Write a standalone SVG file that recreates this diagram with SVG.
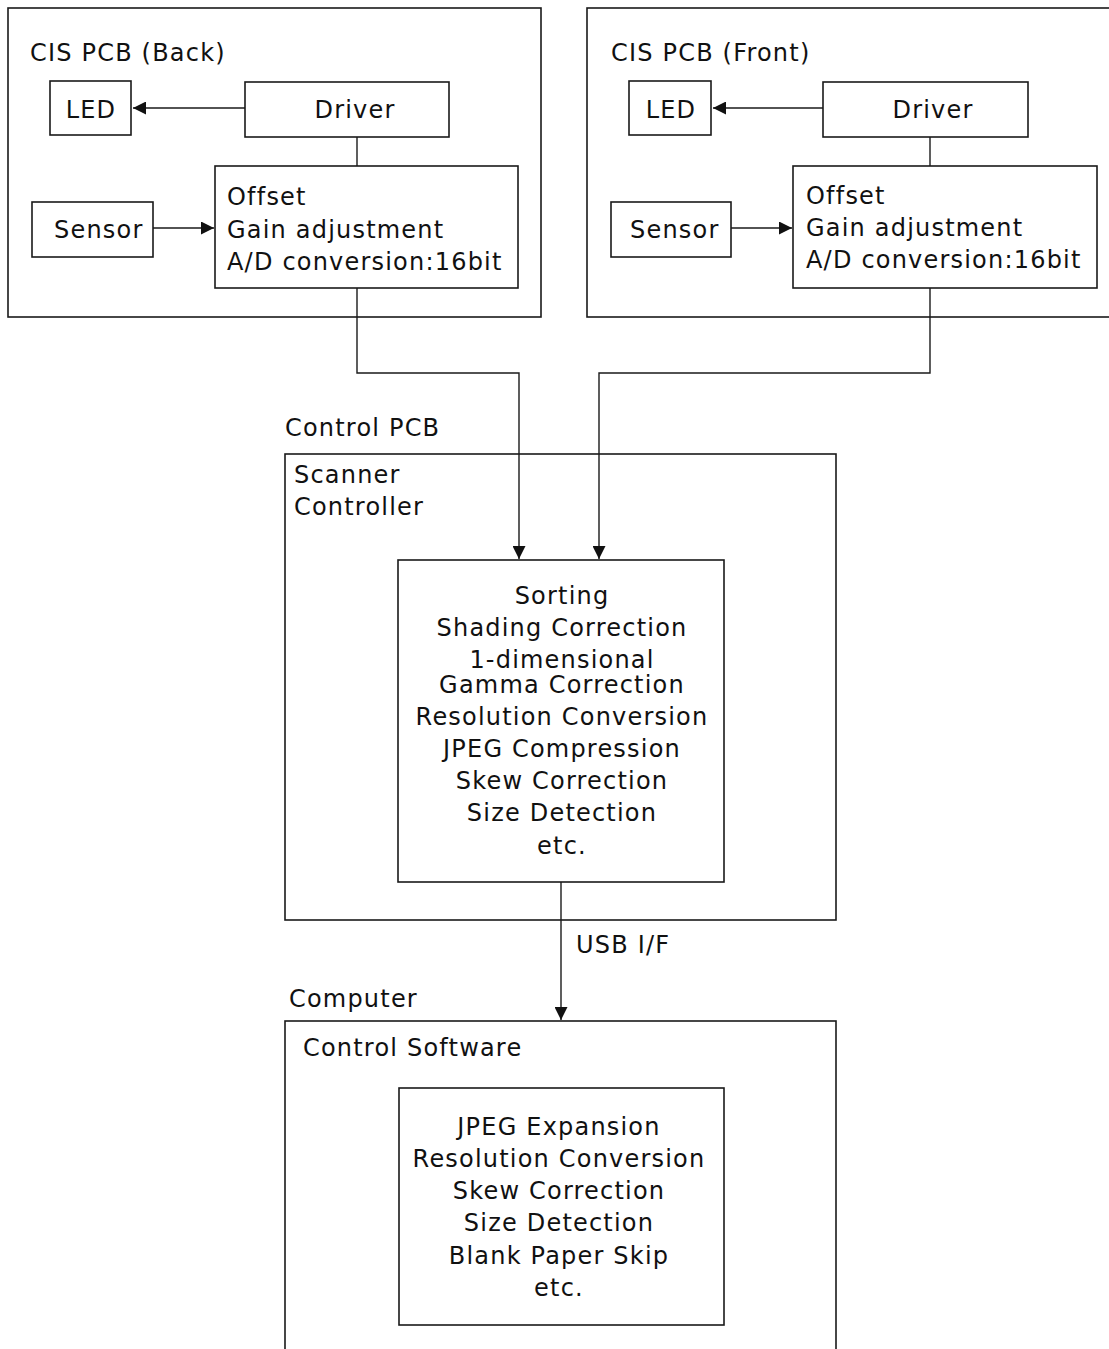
<svg xmlns="http://www.w3.org/2000/svg" width="1109" height="1349" viewBox="0 0 1109 1349">
<style>
.b{fill:#fff;stroke:#1a1a1a;stroke-width:1.6}
.t{font-family:"DejaVu Sans","Verdana",sans-serif;font-size:24px;letter-spacing:1.2px;fill:#111}
.c{text-anchor:middle}
.w{fill:none;stroke:#1a1a1a;stroke-width:1.4}
</style>
<defs>
<marker id="ah" viewBox="0 0 10 10" refX="10" refY="5" markerWidth="13" markerHeight="13" markerUnits="userSpaceOnUse" orient="auto"><path d="M0,0L10,5L0,10z" fill="#111"/></marker>
</defs>
<rect width="1109" height="1349" fill="#fff"/>
<g id="cis-back">
<rect class="b" x="8" y="8" width="533" height="309"/>
<text class="t" x="30" y="61">CIS PCB (Back)</text>
<g id="led-back"><rect class="b" x="50" y="81" width="81" height="54"/><text class="t c" x="91" y="118">LED</text></g>
<g id="driver-back"><rect class="b" x="245" y="82" width="204" height="55"/><text class="t c" x="355" y="118">Driver</text></g>
<g id="sensor-back"><rect class="b" x="32" y="202" width="121" height="55"/><text class="t" x="54" y="238">Sensor</text></g>
<g id="afe-back"><rect class="b" x="215" y="166" width="303" height="122"/>
<text class="t" x="227" y="205">Offset</text><text class="t" x="227" y="238">Gain adjustment</text><text class="t" x="227" y="270">A/D conversion:16bit</text></g>
</g>
<g id="cis-front">
<rect class="b" x="587" y="8" width="530" height="309"/>
<text class="t" x="611" y="61">CIS PCB (Front)</text>
<g id="led-front"><rect class="b" x="629" y="81" width="82" height="54"/><text class="t c" x="671" y="118">LED</text></g>
<g id="driver-front"><rect class="b" x="823" y="82" width="205" height="55"/><text class="t c" x="933" y="118">Driver</text></g>
<g id="sensor-front"><rect class="b" x="611" y="202" width="120" height="55"/><text class="t" x="630" y="238">Sensor</text></g>
<g id="afe-front"><rect class="b" x="793" y="166" width="304" height="122"/>
<text class="t" x="806" y="204">Offset</text><text class="t" x="806" y="236">Gain adjustment</text><text class="t" x="806" y="268">A/D conversion:16bit</text></g>
</g>
<g id="control-pcb">
<text class="t" x="285" y="436">Control PCB</text>
<rect class="b" x="285" y="454" width="551" height="466"/>
<text class="t" x="294" y="483">Scanner</text><text class="t" x="294" y="515">Controller</text>
<g id="scanner-proc"><rect class="b" x="398" y="560" width="326" height="322"/>
<text class="t c" x="562" y="604">Sorting</text>
<text class="t c" x="562" y="636">Shading Correction</text>
<text class="t c" x="562" y="668">1-dimensional</text>
<text class="t c" x="562" y="693">Gamma Correction</text>
<text class="t c" x="562" y="725">Resolution Conversion</text>
<text class="t c" x="562" y="757">JPEG Compression</text>
<text class="t c" x="562" y="789">Skew Correction</text>
<text class="t c" x="562" y="821">Size Detection</text>
<text class="t c" x="562" y="854">etc.</text></g>
</g>
<g id="computer">
<text class="t" x="289" y="1007">Computer</text>
<rect class="b" x="285" y="1021" width="551" height="340"/>
<text class="t" x="303" y="1056">Control Software</text>
<g id="software-proc"><rect class="b" x="399" y="1088" width="325" height="237"/>
<text class="t c" x="559" y="1135">JPEG Expansion</text>
<text class="t c" x="559" y="1167">Resolution Conversion</text>
<text class="t c" x="559" y="1199">Skew Correction</text>
<text class="t c" x="559" y="1231">Size Detection</text>
<text class="t c" x="559" y="1264">Blank Paper Skip</text>
<text class="t c" x="559" y="1296">etc.</text></g>
</g>
<g id="connectors">
<line class="w" x1="245" y1="108" x2="133" y2="108" marker-end="url(#ah)"/>
<line class="w" x1="357" y1="137" x2="357" y2="166"/>
<line class="w" x1="153" y1="228" x2="214" y2="228" marker-end="url(#ah)"/>
<line class="w" x1="823" y1="108" x2="713" y2="108" marker-end="url(#ah)"/>
<line class="w" x1="930" y1="137" x2="930" y2="166"/>
<line class="w" x1="731" y1="228" x2="792" y2="228" marker-end="url(#ah)"/>
<polyline class="w" points="357,288 357,373 519,373 519,559" marker-end="url(#ah)"/>
<polyline class="w" points="930,288 930,373 599,373 599,559" marker-end="url(#ah)"/>
<line class="w" x1="561" y1="882" x2="561" y2="1020" marker-end="url(#ah)"/>
<text class="t" x="576" y="953">USB I/F</text>
</g>
</svg>
